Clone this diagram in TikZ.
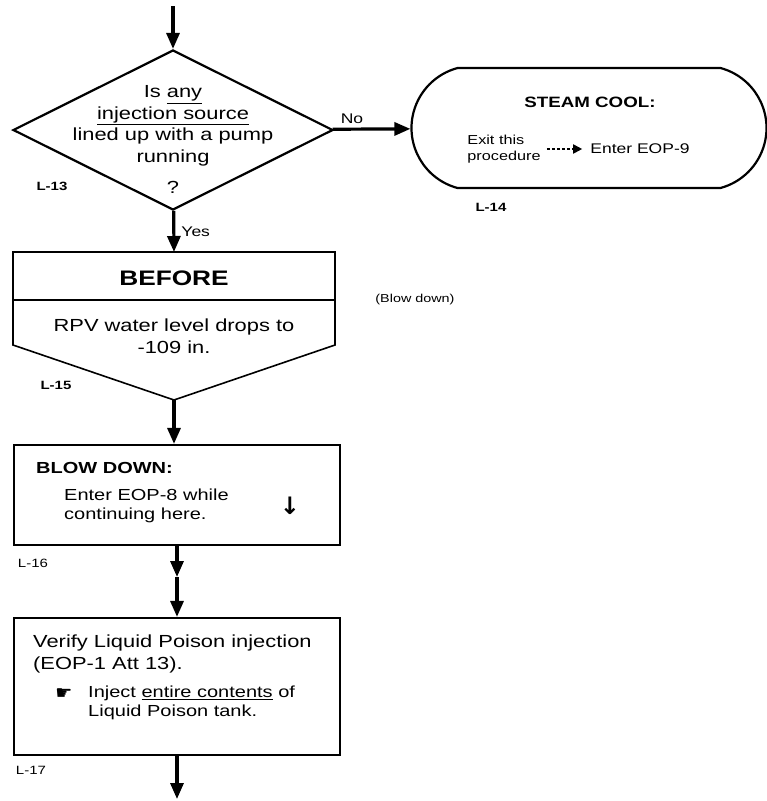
\documentclass[tikz,border=0pt]{standalone}
\usepackage{fontspec}
\setmainfont{Liberation Sans}[FakeStretch=1.25]
\newfontfamily\symbolfont{DejaVu Sans}
\usetikzlibrary{shapes.geometric,shapes.misc,arrows.meta}

\begin{document}
\begin{tikzpicture}[x=1pt,y=-1pt]
    \tikzstyle{block}=[draw,line width=2.2pt,inner sep=0pt]
    \tikzstyle{flow}=[line width=3.2pt,-{Triangle[length=16pt,width=13pt]}]
    \tikzstyle{txt}=[inner sep=0pt,font=\fontsize{17.5}{21.5}\selectfont]
    \tikzstyle{subtxt}=[inner sep=0pt,font=\fontsize{16}{19}\selectfont]
    \tikzstyle{small}=[inner sep=0pt,font=\fontsize{14}{17}\selectfont]
    \tikzstyle{tag}=[inner sep=0pt,font=\fontsize{12}{14}\selectfont]
    \tikzstyle{tagb}=[inner sep=0pt,font=\fontsize{12}{14}\selectfont\bfseries]

    \useasboundingbox (0,0) rectangle (767,801);

    \coordinate (entry) at (173,6);
    \node[block,diamond,aspect=2,minimum width=320pt,minimum height=160pt] (decision) at (173,130) {};
    \node[txt,align=center] (question) at (173,126) {Is \underline{any}\\ \underline{injection source}\\ lined up with a pump\\ running};
    \node[txt] (qmark) at (173,187) {?};
    \node[tagb] (l13) at (52,186) {L-13};

    \node[block,rounded rectangle,rounded rectangle arc length=150,minimum width=355pt,minimum height=120pt] (steam_cool) at (589,128) {};
    \node[inner sep=0pt,font=\fontsize{15}{18}\selectfont\bfseries] (steam_title) at (590,102) {STEAM COOL:};
    \node[inner sep=0pt,font=\fontsize{13}{16}\selectfont,align=left] (exit_proc) at (504,149) {Exit this\\ procedure};
    \node[small] (enter_eop9) at (640,149) {Enter EOP-9};
    \draw[line width=1.8pt,dash pattern=on 3pt off 2pt,-{Triangle[length=9pt,width=9pt]},shorten <=6pt,shorten >=8pt] (exit_proc) -- (enter_eop9);
    \node[tagb] (l14) at (491,207) {L-14};

    \coordinate (before_top) at (174,252);
    \coordinate (before_tip) at (174,400);
    \draw[line width=1.6pt] (13,300) -- (13,252) -- (335,252) -- (335,345) -- (before_tip) -- (13,345) -- cycle;
    \draw[line width=1.6pt] (13,300) -- (335,300);
    \node[inner sep=0pt,font=\fontsize{21}{24}\selectfont\bfseries] (before_title) at (174,278) {BEFORE};
    \node[txt,align=center] (before_cond) at (174,336) {RPV water level drops to\\ -109 in.};
    \node[inner sep=0pt,font=\fontsize{11.5}{13}\selectfont] (blow_note) at (415,300) {(Blow down)};
    \node[tagb] (l15) at (56,385) {L-15};

    \node[block,minimum width=326pt,minimum height=100pt] (blow_down) at (177,495) {};
    \node[inner sep=0pt,font=\fontsize{16}{19}\selectfont\bfseries,anchor=west] (blow_title) at (36,468) {BLOW DOWN:};
    \node[subtxt,align=left,anchor=west] (blow_text) at (64,506) {Enter EOP-8 while\\ continuing here.};
    \node[inner sep=0pt,font=\symbolfont\bfseries\fontsize{24}{24}\selectfont] (blow_arrow) at (290,506) {↓};
    \node[tag] (l16) at (33,563) {L-16};

    \coordinate (blow_mid) at (177,577);
    \node[block,minimum width=326pt,minimum height=137pt] (verify_slc) at (177,686.5) {};
    \node[txt,align=left,anchor=west] (verify_text) at (33,654) {Verify Liquid Poison injection\\ (EOP-1 Att 13).};
    \node[inner sep=0pt,font=\symbolfont\fontsize{19}{19}\selectfont] (hand) at (64,694) {☛};
    \node[subtxt,align=left,anchor=west] (inject_text) at (88,703) {Inject \underline{entire contents} of\\ Liquid Poison tank.};
    \node[tag] (l17) at (31,770) {L-17};
    \coordinate (exit) at (177,799);

    \draw[flow] (entry) -- (decision);
    \draw[flow] (decision) -- (steam_cool) node[pos=0.25,above=4pt,small] {No};
    \draw[flow] (decision) -- (before_top) node[midway,right=6pt,small] {Yes};
    \draw[flow] (before_tip) -- (before_tip |- blow_down.north);
    \draw[flow] (blow_down) -- (blow_mid);
    \draw[flow] (blow_mid) -- (verify_slc);
    \draw[flow] (verify_slc) -- (exit);
\end{tikzpicture}
\end{document}
